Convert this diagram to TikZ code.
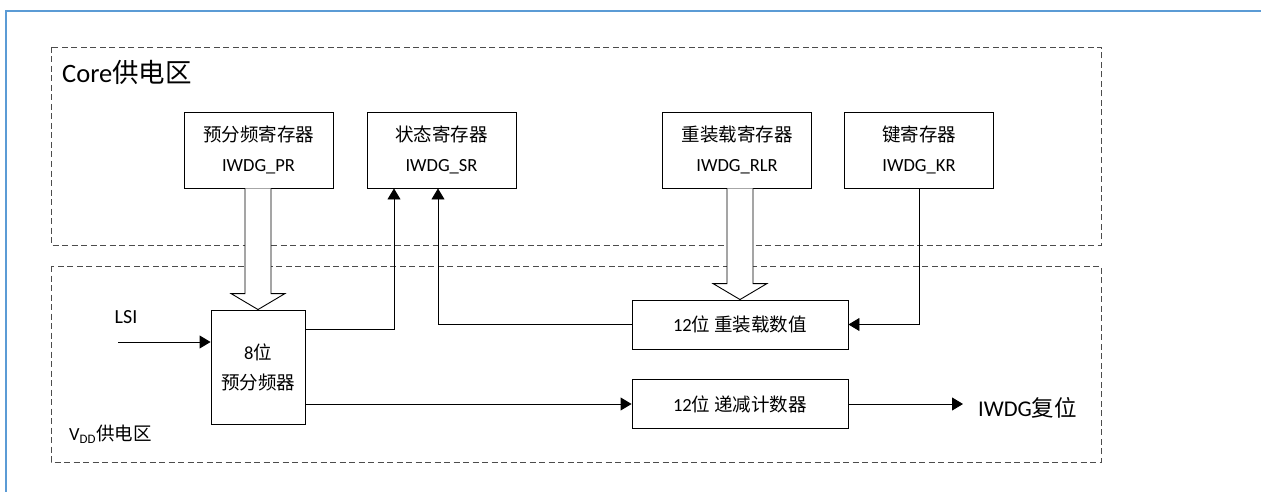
\documentclass[tikz,border=0pt]{standalone}
\usepackage{fontspec}
\setmainfont{Carlito}
\newfontfamily\cjk{Noto Sans CJK SC}
\usepackage{tikz}
\usetikzlibrary{arrows.meta}
\usetikzlibrary{calc}
\definecolor{frameblue}{RGB}{91,155,213}
\newcommand{\regfont}{\fontsize{18.5}{30}\selectfont}
\newcommand{\fatarrow}[2]{%
\coordinate (fattop) at (#1 -| #2);
\draw[fat] ($(fattop)+(-13,0)$) -- ($(#2)+(-13,-16)$) -- ($(#2)+(-27,-16)$) -- (#2)
 -- ($(#2)+(27,-16)$) -- ($(#2)+(13,-16)$) -- ($(fattop)+(13,0)$);}

\begin{document}
\begin{tikzpicture}[x=1pt,y=-1pt,
 reg/.style={draw,line width=0.9pt,minimum width=149pt,minimum height=76pt,inner sep=0pt,align=center,font=\regfont},
 blk/.style={draw,line width=0.9pt,minimum width=216pt,minimum height=49pt,inner sep=0pt,font=\regfont},
 zone/.style={draw=black!70,line width=0.9pt,dash pattern=on 6pt off 3.5pt},
 sig/.style={line width=0.9pt,-{Triangle[length=11pt,width=13pt]}},
 fat/.style={line width=0.9pt,fill=white}]
\useasboundingbox (0,0) rectangle (1261,492);
\draw[frameblue,line width=1.2pt] (1261,11) -- (6,11) -- (6,492);
% supply zones
\draw[zone] (51,47) rectangle (1101,245);
\draw[zone] (51,266) rectangle (1101,462);
\node[anchor=west,inner sep=0pt,font=\fontsize{26.5}{30}\selectfont] (corelbl) at (62,72) {Core{\cjk 供电区}};
\node[anchor=west,inner sep=0pt,font=\regfont] (vddlbl) at (69,434) {V\textsubscript{DD}{\cjk 供电区}};
% registers
\node[reg] (pr) at (258.5,150) {{\cjk 预分频寄存器}\\IWDG\_PR};
\node[reg] (sr) at (441.5,150) {{\cjk 状态寄存器}\\IWDG\_SR};
\node[reg] (rlr) at (737,150) {{\cjk 重装载寄存器}\\IWDG\_RLR};
\node[reg] (kr) at (919,150) {{\cjk 键寄存器}\\IWDG\_KR};
% counter side
\node[draw,line width=0.9pt,minimum width=94pt,minimum height=114pt,inner sep=0pt,align=center,font=\regfont] (pre) at (258,367) {8{\cjk 位}\\{\cjk 预分频器}};
\node[blk] (rel) at (740,324.5) {12{\cjk 位 重装载数值}};
\node[blk] (cnt) at (740,404) {12{\cjk 位 递减计数器}};
\node[font=\fontsize{20}{24}\selectfont,inner sep=0pt] (lsi) at (126,317) {LSI};
\coordinate (lsiin) at (118,342);
\node[anchor=west,inner xsep=15pt,inner ysep=0pt,font=\fontsize{22.5}{26}\selectfont] (rst) at (963,408) {IWDG{\cjk 复位}};
% connections
\fatarrow{pr.south}{pre.north}
\fatarrow{rlr.south}{rel.north}
\draw[sig] (lsiin) -- (lsiin -| pre.west);
\draw[sig] ([yshift=38pt]pre.east) -| ([xshift=-47.5pt]sr.south);
\draw[sig] (rel.west) -| ([xshift=-3.5pt]sr.south);
\draw[sig] (kr.south) |- (rel.east);
\draw[sig] ([yshift=-37pt]pre.east) -- (cnt.west);
\draw[sig] (cnt.east) -- (cnt.east -| rst.west);
\end{tikzpicture}
\end{document}
